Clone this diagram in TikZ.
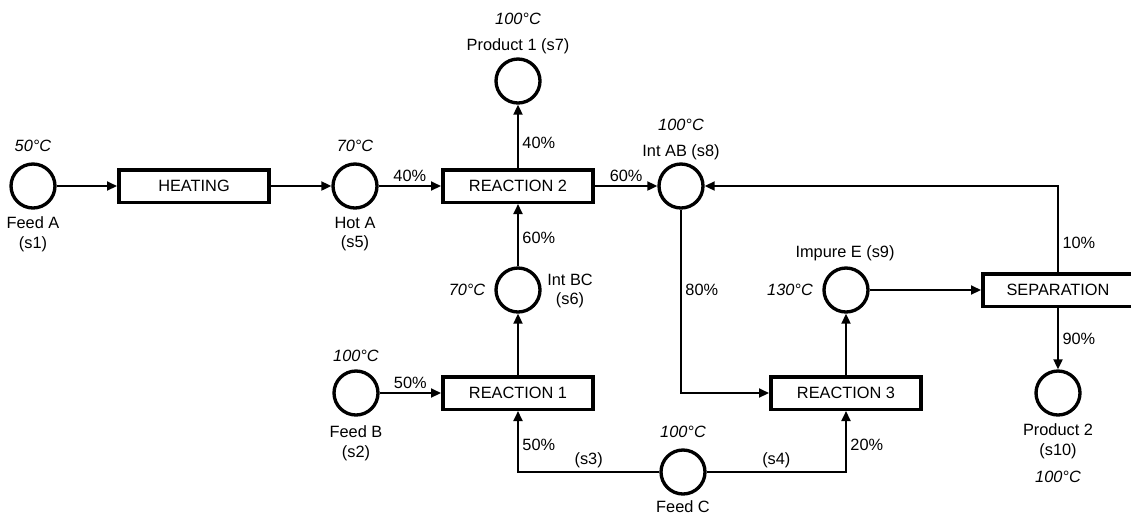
\documentclass[tikz,border=0pt]{standalone}
\usepackage{fontspec}
\setmainfont{Liberation Sans}
\usetikzlibrary{arrows.meta,positioning}

\begin{document}
\begin{tikzpicture}[x=0.02cm, y=-0.02cm,
  every node/.style={font=\fontsize{9.3}{11.3}\selectfont},
  stream/.style={circle, draw, line width=1.9pt, minimum size=0.88cm, inner sep=0pt},
  unit/.style={draw, line width=2pt, minimum width=3.01cm, minimum height=0.65cm, inner sep=0pt},
  temp/.style={font=\fontsize{9.3}{11.3}\selectfont\itshape, inner sep=0pt},
  tag/.style={align=center, inner sep=0pt},
  pct/.style={inner sep=2pt},
  arr/.style={-{Triangle[length=2mm, width=1.8mm]}, line width=1.1pt}]
\useasboundingbox (0,0) rectangle (1131,515);
\clip (0,0) rectangle (1131,515);
% streams and units
\node[stream] (s1) at (33,186) {};
\node[unit] (heat) at (194,186) {HEATING};
\node[stream] (s5) at (355,186) {};
\node[unit] (r2) at (518,186) {REACTION 2};
\node[stream] (s7) at (518,81) {};
\node[stream] (s8) at (681,186) {};
\node[stream] (s6) at (518,290) {};
\node[unit] (r1) at (518,393) {REACTION 1};
\node[stream] (s2) at (356,393) {};
\node[stream] (s3) at (683,472) {};
\node[unit] (r3) at (846,393) {REACTION 3};
\node[stream] (s9) at (846,290) {};
\node[unit] (sep) at (1058,290) {SEPARATION};
\node[stream] (s10) at (1058,393) {};
% names and temperatures
\node[temp] (t1) at (33,146) {50°C};
\node[tag] (n1) at (33,234) {Feed A\\(s1)};
\node[temp] (t5) at (355,146) {70°C};
\node[tag] (n5) at (355,234) {Hot A\\(s5)};
\node[temp] (t7) at (518,19) {100°C};
\node[tag] (n7) at (518,46) {Product 1 (s7)};
\node[temp] (t8) at (681,125) {100°C};
\node[tag] (n8) at (681,152) {Int AB (s8)};
\node[temp] (t6) at (467,290) {70°C};
\node[tag] (n6) at (570,291) {Int BC\\(s6)};
\node[temp] (t2) at (356,356) {100°C};
\node[tag] (n2) at (356,443) {Feed B\\(s2)};
\node[temp] (t3) at (683,432) {100°C};
\node[tag] (n3) at (683,507) {Feed C};
\node[temp] (t9) at (790,290) {130°C};
\node[tag] (n9) at (845,253) {Impure E (s9)};
\node[tag] (n10) at (1058,441) {Product 2\\(s10)};
\node[temp] (t10) at (1058,477) {100°C};
% flows
\draw[arr] (s1) -- (heat);
\draw[arr] (heat) -- (s5);
\draw[arr] (s5) -- node[pct, above] (f1) {40\%} (r2);
\draw[arr] (r2) -- node[pct, right, pos=0.4] (f2) {40\%} (s7);
\draw[arr] (r2) -- node[pct, above] (f3) {60\%} (s8);
\draw[arr] (s6) -- node[pct, right, pos=0.45] (f4) {60\%} (r2);
\draw[arr] (r1) -- (s6);
\draw[arr] (s2) -- node[pct, above] (f5) {50\%} (r1);
\draw[arr] (s3) -| node[pct, above, pos=0.25] (f6) {(s3)} node[pct, right, pos=0.72] (f7) {50\%} (r1);
\draw[arr] (s3) -| node[pct, above, pos=0.25] (f8) {(s4)} node[pct, right, pos=0.72] (f9) {20\%} (r3);
\draw[arr] (s8) |- node[pct, right, pos=0.22] (f10) {80\%} (r3);
\draw[arr] (r3) -- (s9);
\draw[arr] (s9) -- (sep);
\draw[arr] (sep) |- node[pct, right, pos=0.17] (f11) {10\%} (s8);
\draw[arr] (sep) -- node[pct, right] (f12) {90\%} (s10);
\end{tikzpicture}
\end{document}
